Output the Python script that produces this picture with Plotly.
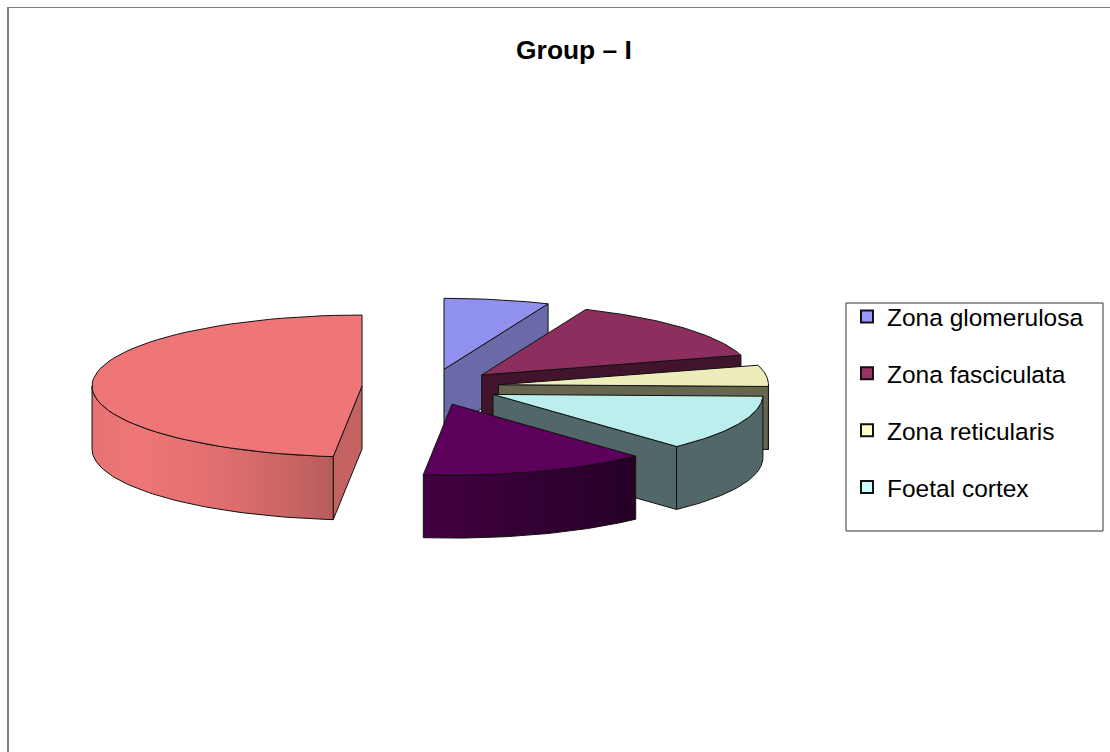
import math
import plotly.graph_objects as go

categories = ["Zona glomerulosa", "Zona fasciculata", "Zona reticularis", "Foetal cortex", "Fifth slice", "Sixth slice"]
values = [6.3, 14.2, 4.9, 12.7, 13.6, 48.3]
legend_names = categories[:4]
legend_colors = ["#9999FF", "#993366", "#FFFFCC", "#CCFFFF"]
top_colors = ["#9090EE", "#8D2F5E", "#EDEDBC", "#BCEEEE", "#5C005C", "#EE7676"]
face_colors = ["#6A6AA8", "#42142C", "#666650", "#526868", "#30002F", "#C56363"]
wall_scales = [
    None, None, None, None,
    [[0, "#420042"], [1, "#250025"]],
    [[0, "#E87272"], [0.2, "#EE7676"], [0.55, "#E06E6E"], [0.8, "#CB6666"], [1, "#B85B5B"]],
]
draw_order = [5, 0, 1, 2, 3, 4]

CX, CY, RX, RY, DEPTH, EXPLODE = 430.5, 387.0, 270.0, 71.0, 63.0, 0.254

fig = go.Figure()


def pt(theta, ox, oy, r=1.0, dz=0.0):
    return ox + r * RX * math.sin(theta), oy - r * RY * math.cos(theta) + dz


def arc(t1, t2, ox, oy, dz=0.0, n=60):
    pts = [pt(t1 + (t2 - t1) * i / n, ox, oy, 1.0, dz) for i in range(n + 1)]
    return [p[0] for p in pts], [p[1] for p in pts]


def poly(xs, ys, color, scale=None, name="", hover=False):
    kw = dict(fillgradient=dict(type="horizontal", colorscale=scale)) if scale else dict(fillcolor=color)
    fig.add_trace(go.Scatter(
        x=xs + [xs[0]], y=ys + [ys[0]], mode="lines", fill="toself",
        line=dict(color="#111111", width=1), showlegend=False, name=name,
        hoverinfo="name" if hover else "skip", **kw))


# angular spans derived from the values
spans = []
acc = 0.0
total = sum(values)
for v in values:
    a = acc / total * 2 * math.pi
    acc += v
    spans.append((a, acc / total * 2 * math.pi))

for i in draw_order:
    t1, t2 = spans[i]
    mid = (t1 + t2) / 2
    ox, oy = pt(mid, CX, CY, EXPLODE)
    # cut faces
    if t1 > math.pi:
        p = pt(t1, ox, oy)
        poly([ox, p[0], p[0], ox], [oy, p[1], p[1] + DEPTH, oy + DEPTH], face_colors[i])
    if t2 < math.pi:
        p = pt(t2, ox, oy)
        poly([ox, p[0], p[0], ox], [oy, p[1], p[1] + DEPTH, oy + DEPTH], face_colors[i])
    # outer wall, visible on the front half of the ellipse
    a = max(t1, math.pi / 2)
    b = min(t2, 1.5 * math.pi)
    if b > a:
        ux, uy = arc(a, b, ox, oy)
        lx, ly = arc(b, a, ox, oy, DEPTH)
        poly(ux + lx, uy + ly, face_colors[i], scale=wall_scales[i])
    # top surface
    ax, ay = arc(t1, t2, ox, oy)
    poly([ox] + ax, [oy] + ay, top_colors[i], name=f"{categories[i]}: {values[i]}", hover=True)

for name, color in zip(legend_names, legend_colors):
    fig.add_trace(go.Scatter(
        x=[None], y=[None], mode="markers", name=name, legendgroup=name,
        marker=dict(symbol="square", size=11, color=color, line=dict(color="#111111", width=2))))

fig.update_layout(
    width=1110, height=752, autosize=False,
    margin=dict(l=0, r=0, t=0, b=0),
    paper_bgcolor="white", plot_bgcolor="white",
    font=dict(family="Liberation Sans, Arial, sans-serif", color="black"),
    title=dict(text="<b>Group – I</b>", x=574 / 1110, y=1 - 50 / 752, xanchor="center", yanchor="middle",
               font=dict(size=26.4, color="black")),
    xaxis=dict(range=[0, 1110], visible=False, fixedrange=True),
    yaxis=dict(range=[752, 0], visible=False, fixedrange=True),
    legend=dict(x=847 / 1110, y=1 - 294 / 752, xanchor="left", yanchor="top",
                font=dict(size=24.5), tracegroupgap=22, bgcolor="rgba(0,0,0,0)", borderwidth=0,
                itemsizing="constant"),
    shapes=[
        dict(type="rect", x0=846, x1=1103, y0=303, y1=531, line=dict(color="#333333", width=1), layer="below"),
        dict(type="line", x0=8, x1=8, y0=7, y1=752, line=dict(color="#808080", width=2)),
        dict(type="line", x0=8, x1=1110, y0=7.5, y1=7.5, line=dict(color="#808080", width=1)),
    ],
)

fig.write_html("out.html", config=dict(displayModeBar=False), post_script="document.body.style.margin='0';")
